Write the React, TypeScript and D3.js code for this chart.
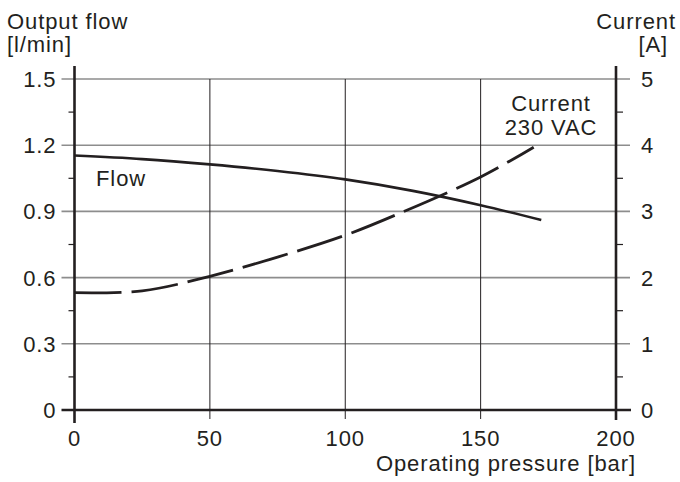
import React from "react";
import * as d3 from "d3";

// Operating pressure [bar] and readings along each curve
const flowPressure = [0, 25, 50, 75, 100, 125, 150, 172.4];
const flowValues = [1.153, 1.137, 1.113, 1.083, 1.045, 0.993, 0.928, 0.861];

const currentPressure = [0, 25, 50, 75, 100, 120, 150, 169.6];
const currentValues = [1.772, 1.8, 2.02, 2.31, 2.64, 2.97, 3.52, 3.97];

const xTicks = [0, 50, 100, 150, 200];
const flowTicks = [0, 0.3, 0.6, 0.9, 1.2, 1.5];
const flowMinorTicks = [0.15, 0.45, 0.75, 1.05, 1.35];
const currentTicks = [0, 1, 2, 3, 4, 5];
const currentMinorTicks = [0.5, 1.5, 2.5, 3.5, 4.5];

const W = 680;
const H = 482;
const INK = "#231f20";
const GRID = "#8d8d8d";
const FONT = "'Liberation Sans', Arial, Helvetica, sans-serif";
const FS = 22;
const LS = 0.9;

export default function App() {
  const x = d3.scaleLinear().domain([0, 200]).range([74.5, 616]);
  const yFlow = d3.scaleLinear().domain([0, 1.5]).range([410, 79]);
  const yCur = d3.scaleLinear().domain([0, 5]).range([410, 79]);

  const flowLine = d3
    .line<number>()
    .x((_, i) => x(flowPressure[i]))
    .y((d) => yFlow(d))
    .curve(d3.curveCatmullRom.alpha(0.5));
  const curLine = d3
    .line<number>()
    .x((_, i) => x(currentPressure[i]))
    .y((d) => yCur(d))
    .curve(d3.curveCatmullRom.alpha(0.5));

  const x0 = x(0);
  const x1 = x(200);
  const yb = yFlow(0);
  const yt = yFlow(1.5);

  return (
    <svg
      width={W}
      height={H}
      style={{ position: "absolute", left: 0, top: 0, background: "#fff", letterSpacing: LS }}
      fontFamily={FONT}
      fontSize={FS}
      fill={INK}
    >
      {/* horizontal grid, extended into the major ticks on both sides */}
      {flowTicks.slice(1).map((t) => (
        <line key={"h" + t} x1={x0 - 13} x2={x1 + 14} y1={yFlow(t)} y2={yFlow(t)} stroke={GRID} strokeWidth={1.6} />
      ))}
      {/* vertical grid */}
      {xTicks.slice(1, -1).map((t) => (
        <line key={"v" + t} x1={x(t)} x2={x(t)} y1={yt} y2={yb + 9} stroke={INK} strokeWidth={1} />
      ))}
      {/* minor ticks */}
      {flowMinorTicks.map((t) => (
        <line key={"lm" + t} x1={x0 - 6} x2={x0} y1={yFlow(t)} y2={yFlow(t)} stroke={INK} strokeWidth={1.2} />
      ))}
      {currentMinorTicks.map((t) => (
        <line key={"rm" + t} x1={x1} x2={x1 + 7} y1={yCur(t)} y2={yCur(t)} stroke={INK} strokeWidth={1.2} />
      ))}
      {/* frame axes */}
      <line x1={x0 - 13} x2={x1 + 15} y1={yb} y2={yb} stroke={INK} strokeWidth={2.6} />
      <line x1={x0} x2={x0} y1={yt - 13} y2={yb + 13} stroke={INK} strokeWidth={2.6} />
      <line x1={x1} x2={x1} y1={yt - 13} y2={yb + 10} stroke={INK} strokeWidth={2.6} />

      {/* curves */}
      <path d={flowLine(flowValues) ?? ""} fill="none" stroke={INK} strokeWidth={2.6} />
      <path
        d={curLine(currentValues) ?? ""}
        fill="none"
        stroke={INK}
        strokeWidth={2.8}
        strokeDasharray="47 10"
      />

      {/* tick labels */}
      {flowTicks.map((t) => (
        <text key={"lf" + t} x={x0 - 18} y={yFlow(t)} dy="0.36em" textAnchor="end">
          {t === 0 ? "0" : d3.format(".1f")(t)}
        </text>
      ))}
      {currentTicks.map((t) => (
        <text key={"rc" + t} x={x1 + 25} y={yCur(t)} dy="0.36em" textAnchor="start">
          {t}
        </text>
      ))}
      {xTicks.map((t) => (
        <text key={"xt" + t} x={x(t)} y={446} textAnchor="middle">
          {t}
        </text>
      ))}

      {/* axis titles */}
      <text x={7} y={29}>Output flow</text>
      <text x={7} y={52}>[l/min]</text>
      <text x={676} y={29} textAnchor="end">Current</text>
      <text x={668} y={52} textAnchor="end">[A]</text>
      <text x={636} y={471} textAnchor="end">Operating pressure [bar]</text>

      {/* curve labels */}
      <text x={96} y={186}>Flow</text>
      <text x={551} y={111} textAnchor="middle">Current</text>
      <text x={551} y={135} textAnchor="middle">230 VAC</text>
    </svg>
  );
}
